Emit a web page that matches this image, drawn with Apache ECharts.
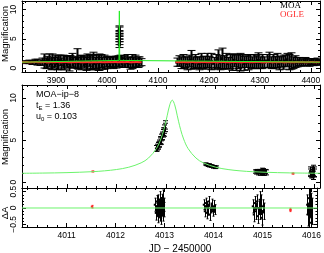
<!DOCTYPE html>
<html><head><meta charset="utf-8">
<script src="https://cdn.jsdelivr.net/npm/echarts@6/dist/echarts.min.js"></script>
<style>html,body{margin:0;padding:0;background:#fff}#c{width:324px;height:253px}</style>
</head><body><div id="c"></div>
<script>
// ---------- DATA ----------
// Top panel, MOA season 1 [JD-2450000, magnification, error]
const moaSeason1 = [
[3839,1.0,0.25],[3846,1.05,0.3],[3852,0.95,0.35],[3858,1.1,0.4],[3863,1.0,0.5],[3868,0.9,0.45],[3873,1.1,0.6],
[3877,1.2,1.2],[3880,0.8,0.9],[3883,1.0,1.0],[3886,1.3,1.1],[3889,0.7,1.0],[3892,1.1,1.3],[3895,0.9,0.9],
[3898,1.2,1.0],[3901,0.8,1.1],[3904,1.0,1.2],[3907,1.3,0.9],[3910,0.7,1.0],[3913,1.1,1.1],[3916,0.9,1.2],
[3919,1.2,0.9],[3922,1.0,1.0],[3925,0.8,1.3],[3928,1.1,1.0],[3931,1.4,1.1],[3934,0.9,0.9],[3937,1.0,1.0],
[3940,1.6,1.7],[3943,0.8,1.0],[3946,1.1,1.1],[3949,0.9,1.2],[3952,1.2,0.9],[3955,1.0,1.0],[3958,0.7,1.1],
[3961,1.1,1.3],[3964,1.3,1.0],[3967,0.9,1.2],[3970,1.0,1.1],[3973,1.2,1.5],[3976,0.8,1.0],[3979,1.1,1.2],
[3982,0.9,1.3],[3985,1.0,1.4],[3988,1.2,1.1],[3991,0.8,1.0],[3994,1.0,1.2],[3997,1.1,0.9],[4000,0.9,1.0],
[4003,1.0,0.8],[4006,1.1,0.9],[4009,1.0,0.9],[4012,0.9,1.0],[4015,1.1,0.9],[4018,1.0,1.0],[4021,1.2,0.9],
[4024,1.0,0.8],[4027,1.3,0.8],[4030,1.0,0.9],[4033,1.1,1.0],[4036,0.9,0.8],[4039,1.2,1.1],[4042,1.0,0.9],
[4045,0.8,1.0],[4048,1.1,1.2],[4051,1.0,0.9],[4054,1.2,1.0],[4057,0.9,0.8],[4060,1.0,0.9],[4063,1.1,0.8],[4066,1.0,0.6]
];
// Top panel, MOA event points as drawn in the overview
const moaOverviewEvent = [
[4024,4.0,0.5],[4024,4.5,0.5],[4024,5.0,0.5],[4024,5.4,0.5],[4024,5.9,0.5],[4024,6.4,0.6],[4024,6.7,0.5],[4025,1.9,0.3]
];
// Top panel, MOA season 2
const moaSeason2 = [
[4137,1.0,0.7],[4141,1.2,0.9],[4145,0.9,1.0],[4149,1.1,1.2],[4153,1.0,0.9],[4157,0.8,1.1],[4161,1.2,1.0],
[4165,1.4,1.6],[4169,0.9,1.0],[4173,1.1,1.2],[4177,1.0,0.9],[4181,0.8,1.1],[4185,1.2,1.3],[4189,1.0,1.0],
[4193,0.9,1.1],[4197,1.3,1.2],[4201,1.0,1.0],[4205,1.1,1.4],[4209,0.8,1.0],[4213,1.2,1.1],[4217,1.5,1.6],
[4221,0.9,1.2],[4225,1.6,1.8],[4229,1.0,1.1],[4233,1.2,1.3],[4237,0.8,1.0],[4241,1.1,1.2],[4245,1.0,1.4],
[4249,1.3,1.1],[4253,0.9,1.3],[4257,1.1,1.2],[4261,1.0,1.5],[4265,1.2,1.1],[4269,0.8,1.2],[4273,1.1,1.0],
[4277,1.0,1.3],[4281,1.2,1.1],[4285,0.9,1.0],[4289,1.1,1.2],[4293,1.0,1.1],[4297,1.3,1.3],[4301,0.9,1.0],
[4305,1.1,1.2],[4309,1.0,0.9],[4313,1.2,1.1],[4317,1.4,1.3],[4321,0.9,1.0],[4325,1.1,1.2],[4329,1.0,1.0],
[4333,1.3,1.2],[4337,0.8,1.1],[4341,1.1,0.9],[4345,1.0,1.2],[4349,1.2,1.0],[4353,1.4,1.1],[4357,1.0,1.3],
[4361,1.2,1.4],[4365,0.9,1.0],[4369,1.1,1.0],[4373,1.0,0.8],[4377,1.1,0.7],[4381,0.9,0.6],[4385,1.0,0.6],
[4389,1.1,0.7],[4393,1.0,0.6],[4397,0.9,0.6],[4401,1.1,0.5],[4405,1.0,0.6],[4409,1.0,0.5],[4413,1.1,0.6],[4417,1.0,0.5]
];
// Top panel OGLE
const ogleTopT = [3836,3842,3848,3854,3860,3866,3872,3878,3884,3890,3896,3902,3908,3914,3920,3926,3932,3938,3944,3950,
  3956,3962,3968,3974,3980,3986,3992,3998,4004,4010,4016,4022,4028,4034,4040,4046,4052,4058,4064,
  4138,4144,4150,4156,4162,4168,4174,4180,4186,4192,4198,4204,4210,4216,4222,4228,4234,4240,4246,4252,4258,
  4264,4270,4276,4282,4288,4294,4300,4306,4312,4318,4324,4330,4336,4342,4348,4354,4360,4366,4372,4378,4384,
  4390,4396,4402,4408,4414];
const ogleTopA = [1.0,1.02,0.98,1.01,1.03,0.99,1.0,1.02,0.97,1.01,1.0,1.03,0.99,1.01,1.02,0.98,1.0,1.01,1.03,0.99,
  1.0,1.02,0.98,1.01,1.0,1.02,0.99,1.0,1.01,1.0,1.02,0.99,1.01,1.0,1.03,0.98,1.0,1.02,0.99,
  1.01,1.0,1.02,0.99,1.01,1.03,0.98,1.0,1.02,1.01,0.99,1.0,1.02,0.98,1.01,1.03,1.0,0.99,1.02,1.01,1.0,
  0.98,1.02,1.01,0.99,1.0,1.03,1.01,0.98,1.0,1.02,0.99,1.01,1.0,1.02,0.98,1.01,1.0,0.99,1.02,1.0,1.01,
  0.99,1.0,1.02,0.99,1.0];
// Zoomed panel: MOA event nights
const moaNight1 = [
[4012.80,4.0,0.35],[4012.82,4.1,0.4],[4012.84,4.4,0.35],[4012.85,4.3,0.4],[4012.86,4.6,0.4],[4012.87,4.5,0.35],
[4012.88,4.85,0.4],[4012.89,5.0,0.4],[4012.90,4.95,0.45],[4012.91,5.3,0.4],[4012.92,5.5,0.45],[4012.93,5.4,0.4],
[4012.94,5.8,0.45],[4012.95,6.0,0.45],[4012.96,5.95,0.5],[4012.97,6.3,0.5],[4012.98,6.5,0.5],[4012.99,6.8,0.5]
];
const moaNight2 = [
[4013.80,2.15,0.12],[4013.82,2.1,0.15],[4013.84,2.05,0.12],[4013.86,2.0,0.15],[4013.87,2.05,0.12],[4013.88,1.95,0.15],
[4013.90,1.95,0.12],[4013.92,1.9,0.15],[4013.94,1.9,0.12],[4013.96,1.8,0.15],[4013.98,1.85,0.12],[4014.00,1.75,0.15],[4014.02,1.8,0.12]
];
const moaNight3 = [
[4014.80,1.25,0.2],[4014.82,1.2,0.25],[4014.84,1.3,0.2],[4014.86,1.15,0.3],[4014.88,1.25,0.25],[4014.90,1.1,0.3],
[4014.92,1.2,0.2],[4014.94,1.3,0.35],[4014.95,1.15,0.25],[4014.97,1.2,0.4],[4014.98,1.1,0.3],[4015.00,1.25,0.25],[4015.02,1.15,0.3]
];
const moaNight4 = [
[4015.91,1.1,0.45],[4015.92,1.3,0.5],[4015.94,0.9,0.4],[4015.95,1.2,0.55],[4015.96,1.0,0.5],[4015.97,1.4,0.6],
[4015.98,0.8,0.5],[4015.99,1.1,0.45],[4016.00,1.2,0.6]
];
const ogleZoom = [[4011.52,1.26,0.04],[4015.57,1.01,0.05]];
// model light curve (t_E = 1.36, u_0 = 0.103)
const modelT = [4010.09,4010.5,4011.0,4011.5,4011.76,4012.0,4012.25,4012.5,4012.65,4012.81,4012.9,4012.96,4013.0,4013.03,
  4013.08,4013.13,4013.18,4013.23,4013.26,4013.3,4013.36,4013.45,4013.61,4013.76,4014.01,4014.26,4014.5,4014.76,4015.26,4015.76,4016.12];
const modelA = [1.043,1.067,1.119,1.228,1.333,1.488,1.762,2.281,2.856,3.989,5.125,6.236,7.17,7.951,
  9.187,9.75,9.187,7.951,7.17,6.236,5.125,3.989,2.856,2.281,1.762,1.488,1.333,1.228,1.119,1.067,1.046];
// model as drawn in the overview panel
const modelWideT = [3833,4023.3,4023.8,4024.1,4024.4,4024.9,4418];
const modelWideA = [1.0,1.3,5.0,9.75,5.0,1.3,1.0];
// residuals [t, dA, err]
const resNight1 = [
[4012.80,0.1,0.2],[4012.82,-0.15,0.22],[4012.84,0.2,0.18],[4012.85,-0.05,0.2],[4012.86,0.15,0.25],[4012.87,-0.25,0.2],
[4012.88,0.05,0.22],[4012.89,-0.1,0.2],[4012.90,0.25,0.25],[4012.91,-0.2,0.2],[4012.92,0.1,0.22],[4012.93,-0.3,0.2],
[4012.94,0.0,0.25],[4012.95,0.2,0.22],[4012.96,-0.15,0.25],[4012.97,0.3,0.25],[4012.98,-0.05,0.22],[4012.99,0.1,0.2]];
const resNight2 = [
[4013.80,0.1,0.15],[4013.82,-0.1,0.17],[4013.84,0.15,0.15],[4013.86,-0.15,0.18],[4013.87,0.05,0.15],[4013.88,-0.05,0.17],
[4013.90,0.2,0.15],[4013.92,-0.2,0.18],[4013.94,0.0,0.15],[4013.96,0.1,0.17],[4013.98,-0.1,0.15],[4014.00,0.05,0.18],[4014.02,-0.05,0.15]];
const resNight3 = [
[4014.80,0.05,0.2],[4014.82,-0.2,0.22],[4014.84,0.15,0.2],[4014.86,-0.1,0.25],[4014.88,0.2,0.2],[4014.90,-0.25,0.22],
[4014.92,0.0,0.2],[4014.94,0.25,0.25],[4014.95,-0.15,0.2],[4014.97,0.1,0.3],[4014.98,-0.3,0.22],[4015.00,0.05,0.2],[4015.02,-0.1,0.25]];
const resNight4 = [
[4015.91,0.1,0.3],[4015.92,-0.2,0.35],[4015.94,0.3,0.3],[4015.95,-0.35,0.35],[4015.96,0.0,0.3],[4015.97,0.2,0.4],
[4015.98,-0.45,0.35],[4015.99,0.15,0.3],[4016.00,-0.1,0.4]];
const ogleRes = [[4011.52,0.04,0.04],[4015.57,-0.06,0.05]];

// ---------- CHART ----------
const FONT = 'Liberation Sans';
const ogleTop = ogleTopT.map((t, i) => [t, ogleTopA[i], 0.03]);
const moaTop = moaSeason1.concat(moaOverviewEvent, moaSeason2);
const moaZoom = moaNight1.concat(moaNight2, moaNight3, moaNight4);
const resAll = resNight1.concat(resNight2, resNight3, resNight4);

function errBars(color, cap, dotW, dotH, lw) {
  return function (params, api) {
    const t = api.value(0), a = api.value(1), e = api.value(2);
    const c = api.coord([t, a]);
    const hi = api.coord([t, a + e]);
    const lo = api.coord([t, a - e]);
    const x = Math.round(c[0]) + 0.5;
    const ch = [
      {type: 'line', shape: {x1: x, y1: hi[1], x2: x, y2: lo[1]}, style: {stroke: color, lineWidth: lw}}
    ];
    if (cap > 0) {
      ch.push({type: 'line', shape: {x1: x - cap, y1: hi[1], x2: x + cap, y2: hi[1]}, style: {stroke: color, lineWidth: 1}});
      ch.push({type: 'line', shape: {x1: x - cap, y1: lo[1], x2: x + cap, y2: lo[1]}, style: {stroke: color, lineWidth: 1}});
    }
    ch.push({type: 'rect', shape: {x: c[0] - dotW / 2, y: c[1] - dotH / 2, width: dotW, height: dotH}, style: {fill: color}});
    return {type: 'group', children: ch};
  };
}

function fmt(v) {
  const r = Math.round(v * 1000) / 1000;
  return r < 0 ? '\u2212' + String(-r) : String(r);
}
const tickCommon = {show: true, inside: true, length: 4, lineStyle: {color: '#000', width: 1}};
const minorCommon = {show: true, splitNumber: 5, length: 2, lineStyle: {color: '#000', width: 1}};
const lineCommon = {show: true, onZero: false, lineStyle: {color: '#000', width: 1}};

function xAx(g, min, max, split, pos, labels, margin) {
  return {type: 'value', gridIndex: g, min: min, max: max, splitNumber: split, position: pos,
    axisLine: lineCommon, axisTick: tickCommon, minorTick: minorCommon, splitLine: {show: false},
    axisLabel: {show: labels, color: '#000', fontFamily: FONT, fontSize: 8.5, margin: margin,
      showMinLabel: false, showMaxLabel: false, formatter: fmt}};
}
function yAx(g, min, max, split, pos, labels) {
  return {type: 'value', gridIndex: g, min: min, max: max, splitNumber: split, position: pos,
    axisLine: lineCommon, axisTick: tickCommon, minorTick: minorCommon, splitLine: {show: false},
    axisLabel: {show: labels, color: '#000', fontFamily: FONT, fontSize: 8.5, margin: 4, rotate: 90,
      showMinLabel: false, showMaxLabel: false, formatter: fmt}};
}

const topX = [3833, 4418], zoomX = [4010.09, 4016.12];
const topY = [-0.68, 11.45], zoomY = [-0.71, 11.55], resY = [-0.58, 0.61];
const RED = '#ff2a2a';

const chart = echarts.init(document.getElementById('c'), null, {renderer: 'canvas'});
chart.setOption({
  animation: false,
  backgroundColor: '#fff',
  grid: [
    {left: 22, top: 1, width: 298, height: 71},
    {left: 22, top: 85, width: 298, height: 103},
    {left: 22, top: 188, width: 298, height: 39}
  ],
  xAxis: [
    xAx(0, topX[0], topX[1], 6, 'bottom', true, 4),
    xAx(0, topX[0], topX[1], 6, 'top', false, 4),
    xAx(1, zoomX[0], zoomX[1], 6, 'bottom', false, 4),
    xAx(1, zoomX[0], zoomX[1], 6, 'top', false, 4),
    xAx(2, zoomX[0], zoomX[1], 6, 'bottom', true, 4),
    xAx(2, zoomX[0], zoomX[1], 6, 'top', false, 4)
  ],
  yAxis: [
    yAx(0, topY[0], topY[1], 2, 'left', true),
    yAx(0, topY[0], topY[1], 2, 'right', false),
    yAx(1, zoomY[0], zoomY[1], 2, 'left', true),
    yAx(1, zoomY[0], zoomY[1], 2, 'right', false),
    yAx(2, resY[0], resY[1], 2, 'left', true),
    yAx(2, resY[0], resY[1], 2, 'right', false)
  ],
  series: [
    {type: 'custom', xAxisIndex: 0, yAxisIndex: 0, clip: true, silent: true, data: moaTop,
      renderItem: errBars('#000', 4, 3, 3, 2), encode: {x: 0, y: 1}},
    {type: 'line', xAxisIndex: 0, yAxisIndex: 0, silent: true, symbol: 'none',
      data: modelWideT.map((t, i) => [t, modelWideA[i]]), lineStyle: {color: '#22ee22', width: 1}},
    {type: 'custom', xAxisIndex: 0, yAxisIndex: 0, clip: true, silent: true, data: ogleTop,
      renderItem: errBars(RED, 0, 3.8, 2, 1), encode: {x: 0, y: 1}},

    {type: 'custom', xAxisIndex: 2, yAxisIndex: 2, clip: true, silent: true, data: moaZoom,
      renderItem: errBars('#000', 2.5, 2, 2, 1), encode: {x: 0, y: 1}},
    {type: 'line', xAxisIndex: 2, yAxisIndex: 2, silent: true, symbol: 'none', smooth: 0.35,
      data: modelT.map((t, i) => [t, modelA[i]]), lineStyle: {color: '#6cf46c', width: 1}},
    {type: 'custom', xAxisIndex: 2, yAxisIndex: 2, clip: true, silent: true, data: ogleZoom,
      renderItem: errBars(RED, 1, 2.5, 2, 1), encode: {x: 0, y: 1}},

    {type: 'line', xAxisIndex: 4, yAxisIndex: 4, silent: true, symbol: 'none',
      data: [[zoomX[0], 0], [zoomX[1], 0]], lineStyle: {color: '#6cf46c', width: 1}},
    {type: 'custom', xAxisIndex: 4, yAxisIndex: 4, clip: true, silent: true, data: resAll,
      renderItem: errBars('#000', 1, 2, 2, 1), encode: {x: 0, y: 1}},
    {type: 'custom', xAxisIndex: 4, yAxisIndex: 4, clip: true, silent: true, data: ogleRes,
      renderItem: errBars(RED, 1, 2.5, 2, 1), encode: {x: 0, y: 1}}
  ],
  graphic: [
    {type: 'text', left: 280, top: 1, style: {text: 'MOA', fill: '#000', font: '9px "Liberation Serif"'}},
    {type: 'text', left: 280, top: 10, style: {text: 'OGLE', fill: RED, font: '9px "Liberation Serif"'}},
    {type: 'text', x: 36, y: 90, style: {text: 'MOA\u2212ip\u22128', fill: '#000', font: '9px "Liberation Sans"'}},
    {type: 'text', x: 36, y: 101, style: {text: '{a|t}{b|E}{a| = 1.36}', fill: '#000',
      rich: {a: {fontFamily: FONT, fontSize: 9, fill: '#000'}, b: {fontFamily: FONT, fontSize: 6, fill: '#000', verticalAlign: 'bottom', padding: [4, 0, 0, 0]}}}},
    {type: 'text', x: 36, y: 112, style: {text: '{a|u}{b|0}{a| = 0.103}', fill: '#000',
      rich: {a: {fontFamily: FONT, fontSize: 9, fill: '#000'}, b: {fontFamily: FONT, fontSize: 6, fill: '#000', verticalAlign: 'bottom', padding: [4, 0, 0, 0]}}}},
    {type: 'text', x: 5, y: 34, rotation: Math.PI / 2, style: {text: 'Magnification', fill: '#000',
      font: '9.5px "Liberation Sans"', align: 'center', verticalAlign: 'middle'}},
    {type: 'text', x: 5, y: 137, rotation: Math.PI / 2, style: {text: 'Magnification', fill: '#000',
      font: '9.5px "Liberation Sans"', align: 'center', verticalAlign: 'middle'}},
    {type: 'text', x: 5, y: 213, rotation: Math.PI / 2, style: {text: '\u0394A', fill: '#000',
      font: '9.5px "Liberation Sans"', align: 'center', verticalAlign: 'middle'}},
    {type: 'text', x: 180, y: 249, style: {text: 'JD \u2212 2450000', fill: '#000',
      font: '10px "Liberation Sans"', align: 'center', verticalAlign: 'middle'}}
  ]
});
</script></body></html>
